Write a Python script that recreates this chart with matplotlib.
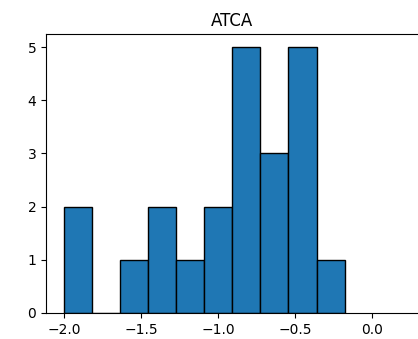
import matplotlib
matplotlib.use("Agg")
import matplotlib.pyplot as plt

# values (10 bins between min and max)
atca = [-2.0, -1.9,
        -1.55,
        -1.42, -1.35,
        -1.2,
        -1.05, -0.98,
        -0.9, -0.85, -0.82, -0.78, -0.75,
        -0.7, -0.63, -0.58,
        -0.53, -0.5, -0.46, -0.42, -0.38,
        -0.18]
xticks = [-2.0, -1.5, -1.0, -0.5, 0.0]

fig = plt.figure(figsize=(4.18, 3.39), dpi=100)
ax = fig.add_axes([0.110, 0.077, 0.89, 0.823])
ax.hist(atca, bins=10, color="#1f77b4", edgecolor="black", linewidth=1)
ax.set_title("ATCA", fontsize=12)
ax.set_xlim(-2.117, 0.296)
ax.set_ylim(0, 5.25)
ax.set_xticks(xticks)
ax.spines["right"].set_visible(False)

plt.savefig("out.png", dpi=100)
